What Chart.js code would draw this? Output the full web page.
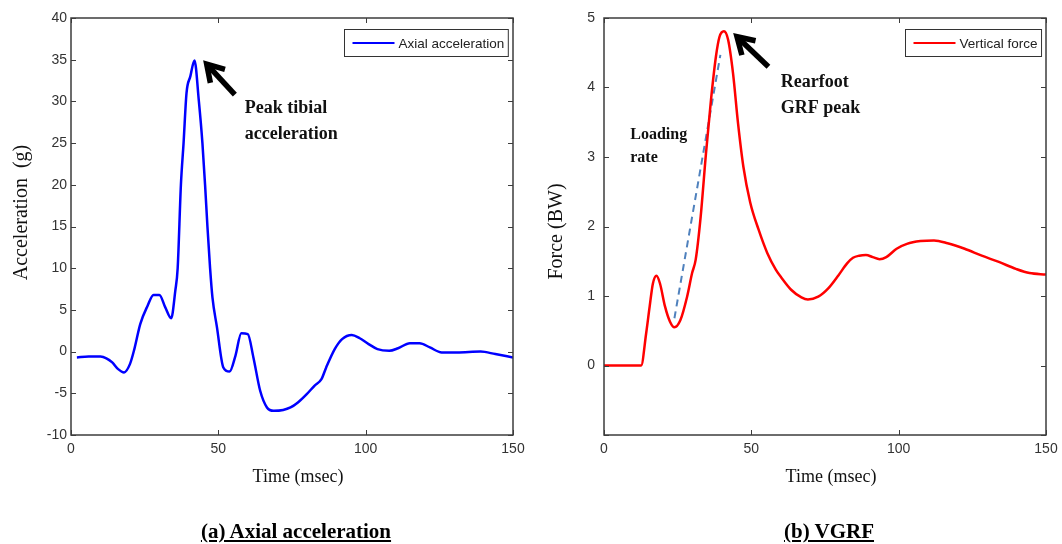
<!DOCTYPE html>
<html>
<head>
<meta charset="utf-8">
<script src="https://cdn.jsdelivr.net/npm/chart.js@4.4.1/dist/chart.umd.min.js"></script>
<style>
  body { margin: 0; background: #fff; }
  #wrap { position: relative; width: 1062px; height: 544px; overflow: hidden; }
  canvas { position: absolute; top: 0; }
  .cap { position: absolute; top: 519px; line-height: 24px; font: bold 21px "Liberation Serif", "Times New Roman", serif;
         text-decoration: underline; white-space: nowrap; transform: translateX(-50%); color: #000; }
</style>
</head>
<body>
<div id="wrap">
  <canvas id="acc" width="531" height="544" style="left:0"></canvas>
  <canvas id="vgrf" width="534" height="544" style="left:530px"></canvas>
  <div class="cap" style="left:296px">(a) Axial acceleration</div>
  <div class="cap" style="left:829px">(b) VGRF</div>
</div>
<script>
// (a) tibial axial acceleration, g
const accTime   = [2, 6, 10, 12, 14, 16, 18, 20, 21.5, 23.5, 26, 28, 30, 32, 34, 35.4, 36.2, 37.3, 38.2, 39.2, 40.5, 41.9,
                   43.4, 44.6, 45.5, 46.3, 47.2, 48, 49.5, 51.7, 53.8, 55.8, 57.8, 60, 61.9, 64.2, 66.5, 68.8, 72, 74.5,
                   77, 80, 82.6, 85, 86.6, 89.5, 92, 95.3, 98, 101, 104, 108, 111, 115, 118.3, 121.8, 125.8, 131, 139, 144, 150];
const accValues = [-0.7, -0.6, -0.6, -0.8, -1.3, -2.1, -2.5, -1.5, 0.3, 3.3, 5.5, 6.8, 6.8, 5.3, 4.0, 7.3, 10, 20, 25, 31, 33, 34.9,
                   30, 25, 20, 15, 10, 6.5, 3, -1.9, -2.4, -0.5, 2.2, 2.1, -0.7, -4.7, -6.7, -7.1, -7.0, -6.7,
                   -6.1, -5.1, -4.1, -3.3, -1.9, 0.3, 1.5, 2.0, 1.6, 0.9, 0.3, 0.1, 0.4, 1.0, 1.0, 0.5, -0.1, -0.1, 0, -0.3, -0.7];

// (b) vertical ground reaction force, BW
const forceTime   = [0, 12.6, 14.3, 15.5, 16.6, 17.8, 19, 20.7, 22.4, 23.9, 25.9, 28.2, 29.9, 31.1, 32.8, 34.6, 36.3, 38, 39.2,
                     40.7, 42.1, 43.8, 45.5, 47.3, 49.6, 52.5, 55.4, 58.3, 60.1, 63.5, 67, 69.2, 72.7, 76.1, 79.6, 82.5, 84.5,
                     86.6, 88.9, 91.2, 93.5, 95.8, 99.3, 102.8, 107.4, 112, 116.6, 122.4, 128.2, 134, 139.8, 144.4, 150];
const forceValues = [0, 0, 0.46, 0.85, 1.18, 1.29, 1.18, 0.85, 0.63, 0.55, 0.65, 0.99, 1.33, 1.52, 2.14, 3.05, 3.82, 4.45, 4.73,
                     4.81, 4.69, 4.2, 3.48, 2.86, 2.35, 1.95, 1.62, 1.38, 1.27, 1.09, 0.98, 0.95, 0.99, 1.11, 1.3, 1.47, 1.55,
                     1.58, 1.59, 1.56, 1.53, 1.56, 1.68, 1.75, 1.79, 1.8, 1.76, 1.68, 1.58, 1.49, 1.39, 1.33, 1.31];

// loading rate dashed line
const loadTime   = [23.9, 39.5];
const loadValues = [0.68, 4.47];

// annotation anchors, in data units [time, value]
const accArrow   = [[55.6, 30.8], [44.9, 34.9]];
const accNotes   = [[59.0, 29.2, 'Peak tibial'], [59.0, 26.0, 'acceleration']];
const forceArrow = [[55.8, 4.30], [43.9, 4.78]];
const forceNotes = [[60.0, 4.08, 'Rearfoot'], [60.0, 3.70, 'GRF peak']];
const loadNotes  = [[8.9, 3.32, 'Loading'], [8.9, 2.99, 'rate']];

const xTicks = [0, 50, 100, 150];

function pts(xs, ys) {
  return xs.map((x, i) => ({x: x, y: ys[i]}));
}

function drawArrow(ctx, x1, y1, x2, y2) {
  // x1,y1 tail ; x2,y2 tip
  const ang = Math.atan2(y1 - y2, x1 - x2);
  const vx = x2 + 5 * Math.cos(ang), vy = y2 + 5 * Math.sin(ang);
  ctx.strokeStyle = '#000';
  ctx.lineWidth = 5.5;
  ctx.lineJoin = 'miter';
  ctx.beginPath(); ctx.moveTo(x1, y1); ctx.lineTo(vx, vy); ctx.stroke();
  ctx.beginPath();
  ctx.moveTo(vx + 19 * Math.cos(ang - 0.55), vy + 19 * Math.sin(ang - 0.55));
  ctx.lineTo(vx, vy);
  ctx.lineTo(vx + 19 * Math.cos(ang + 0.55), vy + 19 * Math.sin(ang + 0.55));
  ctx.stroke();
}

// matlab style box, inner ticks, titles, legend and notes
const matlabFrame = {
  id: 'matlabFrame',
  afterDraw(chart, args, o) {
    const ctx = chart.ctx, a = chart.chartArea, xs = chart.scales.x, ys = chart.scales.y;
    ctx.save();
    ctx.strokeStyle = '#3c3c3c';
    ctx.lineWidth = 1;
    ctx.beginPath();
    xs.ticks.forEach(t => {
      const x = Math.round(xs.getPixelForValue(t.value)) + 0.5;
      ctx.moveTo(x, a.bottom); ctx.lineTo(x, a.bottom - 5);
      ctx.moveTo(x, a.top); ctx.lineTo(x, a.top + 5);
    });
    ys.ticks.forEach(t => {
      const y = Math.round(ys.getPixelForValue(t.value)) + 0.5;
      ctx.moveTo(a.left, y); ctx.lineTo(a.left + 5, y);
      ctx.moveTo(a.right, y); ctx.lineTo(a.right - 5, y);
    });
    ctx.stroke();
    ctx.lineWidth = 1.5;
    ctx.strokeRect(a.left, a.top, a.right - a.left, a.bottom - a.top);

    // axis titles
    ctx.fillStyle = '#111';
    ctx.textAlign = 'center';
    ctx.textBaseline = 'middle';
    ctx.font = '18px "Liberation Serif", serif';
    ctx.fillText(o.xTitle, (a.left + a.right) / 2 + 6, 477);
    ctx.save();
    ctx.translate(o.yTitleX, (a.top + a.bottom) / 2 + o.yTitleShift);
    ctx.rotate(-Math.PI / 2);
    ctx.font = '20px "Liberation Serif", serif';
    ctx.fillText(o.yTitle, 0, 0);
    ctx.restore();

    // legend
    const ds = chart.data.datasets[0];
    ctx.font = '13.5px "Liberation Sans", Arial, sans-serif';
    const tw = ctx.measureText(ds.label).width;
    const bw = 8 + 42 + 4 + tw + 4, bh = 27;
    const bx = Math.round(a.right - 5 - bw) + 0.5, by = a.top + 11.5;
    ctx.fillStyle = '#fff';
    ctx.fillRect(bx, by, bw, bh);
    ctx.strokeStyle = '#333';
    ctx.lineWidth = 1;
    ctx.strokeRect(bx, by, bw, bh);
    ctx.strokeStyle = ds.borderColor;
    ctx.lineWidth = 2;
    ctx.beginPath(); ctx.moveTo(bx + 8, by + bh / 2); ctx.lineTo(bx + 50, by + bh / 2); ctx.stroke();
    ctx.fillStyle = '#222';
    ctx.textAlign = 'left';
    ctx.fillText(ds.label, bx + 54, by + bh / 2 + 1);

    // arrow and notes
    const ar = o.arrow;
    drawArrow(ctx, xs.getPixelForValue(ar[0][0]), ys.getPixelForValue(ar[0][1]),
                   xs.getPixelForValue(ar[1][0]), ys.getPixelForValue(ar[1][1]));
    ctx.fillStyle = '#111';
    o.notes.forEach(n => {
      ctx.font = 'bold ' + n[3] + 'px "Liberation Serif", serif';
      ctx.fillText(n[2], xs.getPixelForValue(n[0]), ys.getPixelForValue(n[1]));
    });
    ctx.restore();
  }
};

function baseScales(yMin, yMax, yStep, yWidth, yPad, hideNeg) {
  const tickFont = {family: '"Liberation Sans", Arial, sans-serif', size: 14};
  return {
    x: {
      type: 'linear', min: 0, max: 150,
      afterBuildTicks: s => { s.ticks = xTicks.map(v => ({value: v})); },
      grid: {display: false, drawTicks: false}, border: {display: false},
      ticks: {font: tickFont, color: '#333', padding: 6, maxRotation: 0},
      afterFit: s => { s.height = 109; }
    },
    y: {
      type: 'linear', min: yMin, max: yMax,
      grid: {display: false, drawTicks: false}, border: {display: false},
      ticks: {stepSize: yStep, font: tickFont, color: '#333', padding: yPad,
              callback: v => (hideNeg && v < 0) ? '' : v},
      afterFit: s => { s.width = yWidth; }
    }
  };
}

new Chart(document.getElementById('acc'), {
  type: 'line',
  data: {
    datasets: [{
      label: 'Axial acceleration',
      data: pts(accTime, accValues),
      borderColor: '#0000ff',
      borderWidth: 2.5,
      pointRadius: 0,
      cubicInterpolationMode: 'monotone'
    }]
  },
  options: {
    responsive: false, animation: false, devicePixelRatio: 1,
    layout: {padding: {top: 18, right: 18, left: 0, bottom: 0}},
    plugins: {
      legend: {display: false}, tooltip: {enabled: false},
      matlabFrame: {
        xTitle: 'Time (msec)', yTitle: 'Acceleration  (g)', yTitleX: 22, yTitleShift: -14,
        arrow: accArrow,
        notes: accNotes.map(n => n.concat(18))
      }
    },
    scales: baseScales(-10, 40, 5, 71, 4, false)
  },
  plugins: [matlabFrame]
});

new Chart(document.getElementById('vgrf'), {
  type: 'line',
  data: {
    datasets: [{
      label: 'Vertical force',
      data: pts(forceTime, forceValues),
      borderColor: '#ff0000',
      borderWidth: 2.5,
      pointRadius: 0,
      cubicInterpolationMode: 'monotone'
    }, {
      label: 'Loading rate',
      data: pts(loadTime, loadValues),
      borderColor: '#4f81bd',
      borderWidth: 2,
      borderDash: [7, 5],
      pointRadius: 0
    }]
  },
  options: {
    responsive: false, animation: false, devicePixelRatio: 1,
    layout: {padding: {top: 18, right: 18, left: 0, bottom: 0}},
    plugins: {
      legend: {display: false}, tooltip: {enabled: false},
      matlabFrame: {
        xTitle: 'Time (msec)', yTitle: 'Force (BW)', yTitleX: 27, yTitleShift: 5,
        arrow: forceArrow,
        notes: forceNotes.map(n => n.concat(18)).concat(loadNotes.map(n => n.concat(16)))
      }
    },
    scales: baseScales(-1, 5, 1, 74, 9, true)
  },
  plugins: [matlabFrame]
});
</script>
</body>
</html>
